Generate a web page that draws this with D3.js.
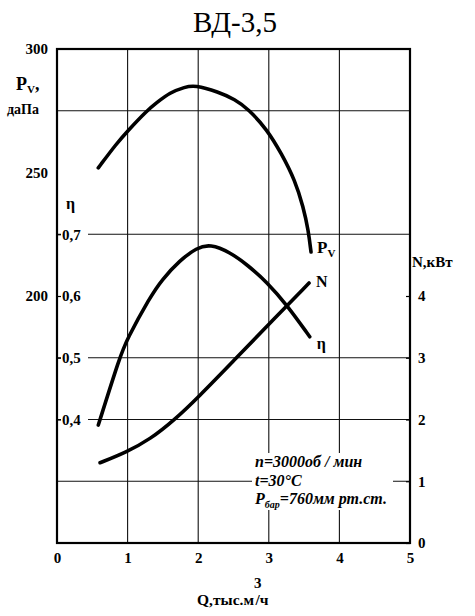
<!DOCTYPE html>
<html>
<head>
<meta charset="utf-8">
<script src="https://cdn.jsdelivr.net/npm/d3@7"></script>
<style>
  body { margin: 0; background: #fff; }
  svg { display: block; }
  text { font-family: "Liberation Serif", "DejaVu Serif", serif; }
</style>
</head>
<body>
<div id="chart"></div>
<script>
// ВД-3,5 - характеристика вентилятора
const qTicks = [0, 1, 2, 3, 4, 5]
const pvTicks = [200, 250, 300]
const etaTicks = [0.4, 0.5, 0.6, 0.7]
const nTicks = [0, 1, 2, 3, 4]
const gridQ = [1, 2, 3, 4]
const gridN = [1, 2, 3, 5, 7]

// Pv, даПа
const qPv = [0.585, 0.846, 0.99, 1.27, 1.41, 1.6, 1.813, 1.95, 2.285, 2.521, 2.709, 2.97, 3.183, 3.371, 3.489, 3.56, 3.598]
const pv = [251.9, 261.8, 266.5, 275, 278.2, 282.4, 284.6, 285.4, 282.6, 279.6, 275.7, 267.6, 257.5, 246.8, 236.0, 226.6, 217.8]
// η
const qEta = [0.585, 0.892, 0.987, 1.317, 1.483, 1.742, 1.979, 2.17, 2.45, 2.7, 2.97, 3.26, 3.58]
const eta = [0.391, 0.502, 0.529, 0.598, 0.626, 0.658, 0.678, 0.684, 0.671, 0.650, 0.623, 0.585, 0.534]
// N, кВт
const qN = [0.61, 0.98, 1.32, 1.67, 2.0, 2.5, 3.0, 3.57]
const nKw = [1.30, 1.47, 1.68, 2.0, 2.36, 2.95, 3.54, 4.21]

const width = 475
const height = 616
const marginTop = 49
const marginRight = 65
const marginBottom = 73
const marginLeft = 57

const x = d3.scaleLinear([0, 5], [marginLeft, width - marginRight])
const yP = d3.scaleLinear([100, 300], [height - marginBottom, marginTop])
const yEta = d3.scaleLinear([0.2, 1.0], [height - marginBottom, marginTop])
const yN = d3.scaleLinear([0, 8], [height - marginBottom, marginTop])
const comma = v => String(v).replace(".", ",")

const svg = d3.select("#chart")
    .append("svg")
    .attr("width", width)
    .attr("height", height)
    .attr("viewBox", [0, 0, width, height])

// заголовок
svg.append("text")
    .attr("x", 235)
    .attr("y", 32)
    .attr("text-anchor", "middle")
    .attr("font-size", 29)
    .text("ВД-3,5")

// сетка
const grid = svg.append("g").attr("stroke", "#111").attr("stroke-width", 1.1)
grid.selectAll(".gx").data(gridQ).join("line")
    .attr("x1", d => x(d)).attr("x2", d => x(d))
    .attr("y1", yN(8)).attr("y2", yN(0))
grid.selectAll(".gy").data(gridN).join("line")
    .attr("x1", x(0)).attr("x2", x(5))
    .attr("y1", d => yN(d)).attr("y2", d => yN(d))

// подложка под подписями η и под примечанием
svg.append("g").attr("fill", "#fff")
    .selectAll("rect").data(etaTicks).join("rect")
    .attr("x", x(0) + 4).attr("y", d => yEta(d) - 8)
    .attr("width", 27).attr("height", 16)
svg.append("rect")
    .attr("fill", "#fff")
    .attr("x", 252).attr("y", 453)
    .attr("width", 141).attr("height", 57)

// рамка
svg.append("rect")
    .attr("x", x(0)).attr("y", yN(8))
    .attr("width", x(5) - x(0)).attr("height", yN(0) - yN(8))
    .attr("fill", "none")
    .attr("stroke", "#000")
    .attr("stroke-width", 2.2)

const styleAxis = g => {
    g.select(".domain").remove()
    g.selectAll("text")
        .attr("fill", "#000")
        .attr("font-weight", "bold")
        .attr("font-size", 15)
    g.selectAll(".tick line").attr("stroke", "#000").attr("stroke-width", 1.2)
}

// Pv ось
svg.append("g")
    .attr("transform", `translate(${x(0)},0)`)
    .call(d3.axisLeft(yP).tickValues(pvTicks).tickSize(0).tickPadding(9).tickFormat(d3.format("d")))
    .call(styleAxis)

// η ось
svg.append("g")
    .attr("transform", `translate(${x(0)},0)`)
    .call(d3.axisRight(yEta).tickValues(etaTicks).tickSize(4).tickPadding(1).tickFormat(comma))
    .call(styleAxis)

// N ось
svg.append("g")
    .attr("transform", `translate(${x(5)},0)`)
    .call(d3.axisRight(yN).tickValues(nTicks).tickSize(-4).tickPadding(8).tickFormat(d3.format("d")))
    .call(styleAxis)

// Q ось
svg.append("g")
    .attr("transform", `translate(0,${yN(0)})`)
    .call(d3.axisBottom(x).tickValues(qTicks).tickSize(0).tickPadding(9).tickFormat(d3.format("d")))
    .call(styleAxis)

// подписи осей
const bold = svg.append("g").attr("font-weight", "bold").attr("fill", "#000")
const pvLabel = bold.append("text").attr("x", 16).attr("y", 90).attr("font-size", 18)
pvLabel.append("tspan").text("P")
pvLabel.append("tspan").attr("font-size", 11).attr("dy", 3).text("V")
pvLabel.append("tspan").attr("dy", -3).text(",")
bold.append("text").attr("x", 7).attr("y", 114).attr("font-size", 14).text("даПа")
bold.append("text").attr("x", 66).attr("y", 209).attr("font-size", 16).text("η")
bold.append("text").attr("x", 412).attr("y", 267).attr("font-size", 15).text("N,кВт")
const qLabel = bold.append("text").attr("x", 197).attr("y", 605).attr("font-size", 15.5)
qLabel.append("tspan").text("Q,тыс.м")
qLabel.append("tspan").attr("dy", -17).attr("font-size", 15).text("3")
qLabel.append("tspan").attr("dy", 17).attr("dx", -6).text("/ч")

// кривые
const curve = d3.curveBasis
const lines = svg.append("g")
    .attr("fill", "none")
    .attr("stroke", "#000")
    .attr("stroke-width", 3.6)
    .attr("stroke-linecap", "round")
lines.append("path")
    .attr("d", d3.line().x(i => x(qPv[i])).y(i => yP(pv[i])).curve(curve)(d3.range(qPv.length)))
lines.append("path")
    .attr("d", d3.line().x(i => x(qEta[i])).y(i => yEta(eta[i])).curve(curve)(d3.range(qEta.length)))
lines.append("path")
    .attr("d", d3.line().x(i => x(qN[i])).y(i => yN(nKw[i])).curve(curve)(d3.range(qN.length)))

// подписи кривых
const pvEnd = [x(qPv[qPv.length - 1]), yP(pv[pv.length - 1])]
const cl = bold.append("text").attr("x", pvEnd[0] + 6).attr("y", pvEnd[1] + 1).attr("font-size", 17)
cl.append("tspan").text("P")
cl.append("tspan").attr("font-size", 11).attr("dy", 4).text("V")
bold.append("text")
    .attr("x", x(qN[qN.length - 1]) + 7).attr("y", yN(nKw[nKw.length - 1]) + 4)
    .attr("font-size", 16).text("N")
bold.append("text")
    .attr("x", x(qEta[qEta.length - 1]) + 7).attr("y", yEta(eta[eta.length - 1]) + 12)
    .attr("font-size", 16).text("η")

// примечание
const note = svg.append("g")
    .attr("font-weight", "bold")
    .attr("font-style", "italic")
    .attr("font-size", 16)
    .attr("fill", "#000")
note.append("text").attr("x", 255).attr("y", 467).text("n=3000об / мин")
note.append("text").attr("x", 255).attr("y", 486).text("t=30°C")
const pb = note.append("text").attr("x", 255).attr("y", 504)
pb.append("tspan").text("P")
pb.append("tspan").attr("font-size", 10).attr("dy", 4).text("бар")
pb.append("tspan").attr("dy", -4).text("=760мм рт.ст.")
</script>
</body>
</html>
